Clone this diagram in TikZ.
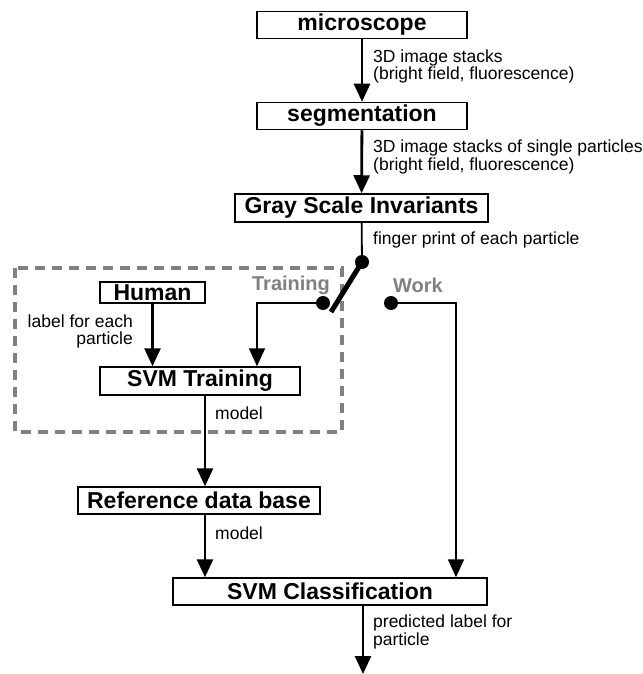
\documentclass[tikz,border=0pt]{standalone}
\usepackage{fontspec}
\setmainfont{Liberation Sans}
\usetikzlibrary{arrows.meta, calc}

\tikzset{
	box/.style = {draw, line width=1.5pt, inner sep=1pt, minimum height=27pt,
		font=\bfseries\fontsize{23}{26}\selectfont},
	lbl/.style = {inner sep=0pt, align=left, font=\fontsize{17.5}{17.5}\selectfont},
	flow/.style = {line width=2.8pt, -{Triangle[length=18pt, width=16pt]}},
	thinflow/.style = {line width=1.8pt, -{Triangle[length=18pt, width=16pt]}},
	contact/.style = {circle, fill=black, inner sep=0pt, minimum size=14pt},
	switchname/.style = {text=black!50, font=\bfseries\fontsize{20}{22}\selectfont}
}

\begin{document}
\begin{tikzpicture}[x=1pt, y=-1pt]
\useasboundingbox (0, 0) rectangle (642, 674);

% training part
\draw[black!50, line width=4pt, dash pattern=on 10pt off 7pt]
	(15, 268) rectangle (342, 432);

\node[box, minimum width=210pt] (mic) at (362, 25) {microscope};
\node[box, minimum width=210pt] (seg) at (362, 116) {segmentation};
\node[box, minimum width=253pt, minimum height=28pt] (gsi) at (361.5, 208) {Gray Scale Invariants};
\node[box, minimum width=105pt, minimum height=21pt] (hum) at (152.5, 292.5) {Human};
\node[box, minimum width=200pt, minimum height=28pt] (svmt) at (200, 381) {SVM Training};
\node[box, minimum width=242pt] (refdb) at (199, 500.5) {Reference data base};
\node[box, minimum width=314pt] (svmc) at (330, 591.5) {SVM Classification};

% switch
\node[contact] (pivot) at (362, 262) {};
\node[contact] (trn) at (323, 303) {};
\node[contact] (wrk) at (391, 303) {};
\coordinate (lever) at (331, 312);
\node[switchname] (trnname) at (291, 285) {Training};
\node[switchname] (wrkname) at (418, 285) {Work};

\coordinate (col) at (205, 0);
\coordinate (tcol) at (257, 0);
\coordinate (wcol) at (456, 0);
\coordinate (out) at (363, 674);

\draw[flow] (mic) -- (seg);
\draw[flow] (seg) -- (gsi);
\draw[line width=1.8pt] (gsi) -- (pivot);
\draw[line width=5pt] (pivot.center) -- (lever);
\draw[thinflow] (trn.center) -| (svmt.north -| tcol);
\draw[thinflow] (wrk.center) -| (svmc.north -| wcol);
\draw[flow] (hum) -- (hum.south |- svmt.north);
\draw[flow] (svmt.south -| col) -- (refdb.north -| col);
\draw[flow] (refdb.south -| col) -- (svmc.north -| col);
\draw[flow] (svmc.south -| out) -- (out);

% labels
\node[lbl, anchor=west] (l1) at (373, 66.5) {3D image stacks\\(bright field, fluorescence)};
\node[lbl, anchor=west] (l2) at (373, 157) {3D image stacks of single particles\\(bright field, fluorescence)};
\node[lbl, anchor=west] (l3) at (373, 240) {finger print of each particle};
\node[lbl, anchor=east, align=right] (l4) at (133, 331.5) {label for each\\particle};
\node[lbl, anchor=west] (l5) at (215, 413) {model};
\node[lbl, anchor=west] (l6) at (215, 533) {model};
\node[lbl, anchor=west] (l7) at (373, 632) {predicted label for\\particle};

\end{tikzpicture}
\end{document}
